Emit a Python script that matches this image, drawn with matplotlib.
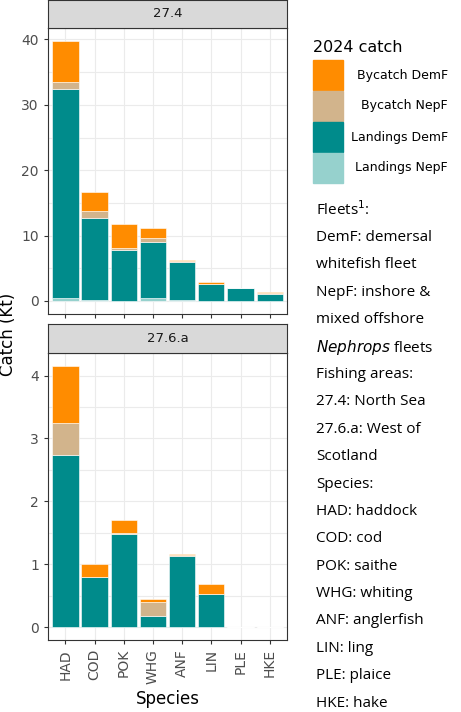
import matplotlib.pyplot as plt
import matplotlib.patches as mpatches
import numpy as np

species = ['HAD', 'COD', 'POK', 'WHG', 'ANF', 'LIN', 'PLE', 'HKE']
series = ['Landings NepF', 'Landings DemF', 'Bycatch NepF', 'Bycatch DemF']
colors = {'Bycatch DemF': '#FF8C00', 'Bycatch NepF': '#D2B48C',
          'Landings DemF': '#008B8B', 'Landings NepF': '#96D1CD'}

# 27.4 North Sea (Kt)
ns_land_nepf = [0.4, 0.1, 0.0, 0.4, 0.1, 0.0, 0.0, 0.0]
ns_land_demf = [32.0, 12.6, 7.8, 8.6, 5.9, 2.6, 2.0, 1.1]
ns_by_nepf = [1.1, 1.0, 0.3, 0.6, 0.05, 0.05, 0.0, 0.1]
ns_by_demf = [6.3, 3.0, 3.7, 1.5, 0.15, 0.3, 0.0, 0.1]

# 27.6.a West of Scotland (Kt)
ws_land_nepf = [0.0, 0.0, 0.0, 0.0, 0.0, 0.0, 0.0, 0.0]
ws_land_demf = [2.74, 0.80, 1.48, 0.18, 1.13, 0.52, 0.0, 0.0]
ws_by_nepf = [0.50, 0.0, 0.01, 0.22, 0.01, 0.0, 0.0, 0.0]
ws_by_demf = [0.91, 0.21, 0.21, 0.05, 0.03, 0.17, 0.0, 0.0]

fig = plt.figure(figsize=(4.61, 7.12), dpi=100)
L, W = 0.104, 0.519
ax1 = fig.add_axes([L, 0.559, W, 0.402])
ax2 = fig.add_axes([L, 0.101, W, 0.403])
s1 = fig.add_axes([L, 0.961, W, 0.039])
s2 = fig.add_axes([L, 0.504, W, 0.041])

x = np.arange(len(species))


def panel(ax, data, ymax, major, minor):
    bottom = np.zeros(len(species))
    for name, vals in zip(series, data):
        ax.bar(x, vals, 0.9, bottom=bottom, color=colors[name], edgecolor='white', linewidth=0.4, zorder=3)
        bottom += np.array(vals)
    ax.set_xlim(-0.6, 7.6)
    ax.set_ylim(-0.05 * ymax, ymax * 1.05)
    ax.set_yticks(major)
    ax.set_yticks(minor, minor=True)
    ax.set_xticks(x)
    ax.grid(True, which='both', color='#EBEBEB', linewidth=0.8, zorder=0)
    ax.tick_params(axis='y', which='minor', length=0)
    ax.tick_params(colors='#4D4D4D', labelsize=10, length=3, color='#333333')
    for sp in ax.spines.values():
        sp.set_color('#333333')


panel(ax1, [ns_land_nepf, ns_land_demf, ns_by_nepf, ns_by_demf], 39.8,
      [0, 10, 20, 30, 40], [5, 15, 25, 35])
ax1.set_xticklabels([])
panel(ax2, [ws_land_nepf, ws_land_demf, ws_by_nepf, ws_by_demf], 4.15,
      [0, 1, 2, 3, 4], [0.5, 1.5, 2.5, 3.5])
ax2.set_xticklabels(species, rotation=90)
ax2.set_xlabel('Species', fontsize=12)
fig.text(0.018, 0.53, 'Catch (Kt)', rotation=90, fontsize=12, va='center', ha='center')

for s, lab in [(s1, '27.4'), (s2, '27.6.a')]:
    s.set_facecolor('#D9D9D9')
    s.set_xticks([])
    s.set_yticks([])
    for sp in s.spines.values():
        sp.set_color('#333333')
    s.text(0.5, 0.5, lab, ha='center', va='center', fontsize=9.5, color='#1A1A1A')

# legend
fig.text(313 / 461, 1 - 47 / 712, '2024 catch', fontsize=11.5, va='center')
for i, name in enumerate(['Bycatch DemF', 'Bycatch NepF', 'Landings DemF', 'Landings NepF']):
    yc = 75 + i * 31
    fig.patches.append(mpatches.Rectangle((313 / 461, 1 - (yc + 15) / 712), 30 / 461, 30 / 712,
                                          transform=fig.transFigure, color=colors[name]))
    fig.text(448 / 461, 1 - yc / 712, name, fontsize=9, ha='right', va='center')

notes = ['Fleets$^1$:', 'DemF: demersal', 'whitefish fleet', 'NepF: inshore &',
         'mixed offshore', None, 'Fishing areas:', '27.4: North Sea',
         '27.6.a: West of', 'Scotland', 'Species:', 'HAD: haddock', 'COD: cod',
         'POK: saithe', 'WHG: whiting', 'ANF: anglerfish', 'LIN: ling',
         'PLE: plaice', 'HKE: hake']
for i, t in enumerate(notes):
    yy = 1 - (210 + i * 27.4) / 712
    if t is None:
        t = r'$\it{Nephrops}$ fleets'
    fig.text(316 / 461, yy, t, fontsize=11, va='center', family='Open Sans')

fig.savefig('out.png', dpi=100)
